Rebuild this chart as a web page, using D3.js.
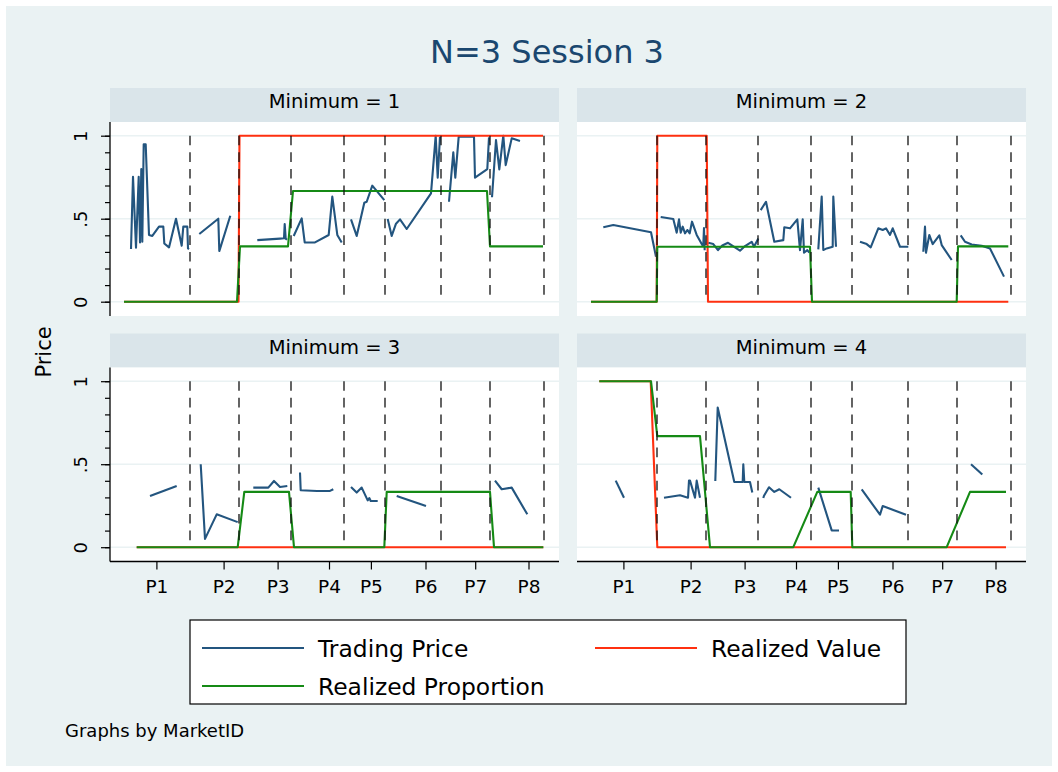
<!DOCTYPE html>
<html>
<head>
<meta charset="utf-8">
<script src="https://cdn.jsdelivr.net/npm/d3@7"></script>
<style>
  body { margin: 0; background: #ffffff; }
  svg { display: block; }
  text { font-family: "DejaVu Sans", sans-serif; fill: #000; }
</style>
</head>
<body>
<svg id="chart" width="1058" height="772"></svg>
<script>
// ---- labels -------------------------------------------------------------
const chartTitle = "N=3 Session 3";
const panelTitles = ["Minimum = 1", "Minimum = 2", "Minimum = 3", "Minimum = 4"];
const periodLabels = ["P1", "P2", "P3", "P4", "P5", "P6", "P7", "P8"];
const periodTicks = [32.4, 99.6, 153.6, 205, 246.9, 301.5, 351.2, 404.5];
const periodEnds = [66, 115, 167, 220, 261, 317, 366, 420];
const yTickValues = [0, 0.5, 1];
const yTickLabels = ["0", ".5", "1"];
const seriesNames = ["Trading Price", "Realized Value", "Realized Proportion"];

// ---- Minimum = 1 --------------------------------------------------------
const valueMin1 = [[0, 0], [114.5, 0], [115.5, 1], [419, 1]];
const proportionMin1 = [[0, 0], [113, 0], [116, 0.333], [164, 0.333], [169, 0.667],
  [363, 0.667], [366, 0.333], [419, 0.333]];
const priceMin1 = [
  [[7, 0.317], [9, 0.753], [12, 0.325], [14.7, 0.753], [16, 0.357], [17.3, 0.799], [18.3, 0.361],
   [19.7, 0.948], [21.7, 0.948], [25, 0.402], [28.3, 0.396], [35, 0.452], [39.3, 0.452], [40.3, 0.351],
   [45, 0.327], [52, 0.5], [57.7, 0.337], [59.3, 0.452], [63.3, 0.452], [64, 0.321], [65, 0.317]],
  [[75.3, 0.408], [94.3, 0.5], [95.3, 0.305], [106.3, 0.518]],
  [[133.3, 0.371], [156, 0.38], [160, 0.382], [160.7, 0.468], [161.7, 0.38], [163, 0.373]],
  [[169.7, 0.396], [177.7, 0.502], [180.7, 0.357], [191, 0.357], [204.7, 0.402], [208.3, 0.633],
   [213.3, 0.402], [217.7, 0.357]],
  [[227, 0.496], [232.7, 0.396], [240.3, 0.596], [242.7, 0.602], [248.3, 0.699], [260.3, 0.612]],
  [[263.7, 0.498], [267.7, 0.396], [272, 0.47], [276, 0.496], [282.7, 0.438], [307, 0.653],
   [311.7, 1], [313.7, 0.747], [316, 0.994]],
  [[325, 0.602], [329.3, 0.9], [331.3, 0.747], [334.7, 0.994], [350, 0.994], [351, 0.747],
   [363.3, 0.799], [365, 0.99]],
  [[368, 0.629], [372, 0.974], [375.3, 0.797], [379.3, 1], [381.7, 0.823], [387.7, 0.984], [396, 0.968]]
];

// ---- Minimum = 2 --------------------------------------------------------
const valueMin2 = [[0, 0], [65.7, 0], [66.3, 1], [115.7, 1], [117, 0], [417.3, 0]];
const proportionMin2 = [[0, 0], [65.7, 0], [66.3, 0.331], [219, 0.331], [221, 0],
  [365.7, 0], [367, 0.333], [417.3, 0.333]];
const priceMin2 = [
  [[12.3, 0.448], [22.3, 0.462], [60, 0.418], [65, 0.271]],
  [[69.7, 0.51], [82.3, 0.498], [85.7, 0.416], [88, 0.496], [89.7, 0.416], [91.7, 0.452], [94, 0.412],
   [96.3, 0.432], [98.7, 0.412], [101, 0.482], [105.7, 0.402], [111.7, 0.337], [112.3, 0.343],
   [113, 0.443], [113.7, 0.31]],
  [[117.3, 0.355], [122.3, 0.347], [127, 0.311], [131.3, 0.339], [137, 0.355], [142, 0.335],
   [149, 0.307], [154, 0.335], [160.7, 0.361], [163, 0.331], [167.3, 0.381]],
  [[169.7, 0.552], [175, 0.602], [183.3, 0.361], [192.3, 0.371], [193.3, 0.448], [199, 0.442],
   [206.3, 0.496], [209, 0.311], [211.7, 0.496], [213, 0.295], [216.3, 0.311], [218.3, 0.295]],
  [[227.3, 0.315], [230.7, 0.633], [232.3, 0.311], [235.7, 0.321], [241.7, 0.331], [242.3, 0.633],
   [245, 0.331]],
  [[269, 0.361], [275.7, 0.347], [279.7, 0.327], [287.3, 0.442], [291.7, 0.432], [295, 0.442],
   [299, 0.402], [301.7, 0.442], [309, 0.331], [317.3, 0.331]],
  [[332.3, 0.301], [334, 0.452], [335, 0.295], [338.3, 0.402], [341.7, 0.347], [348.3, 0.4],
   [350.7, 0.341], [360.7, 0.251]],
  [[369.7, 0.4], [374, 0.361], [380.7, 0.345], [390.7, 0.337], [399, 0.321], [413, 0.151]]
];

// ---- Minimum = 3 --------------------------------------------------------
const valueMin3 = [[12.7, 0], [419.3, 0]];
const proportionMin3 = [[12.7, 0], [113.7, 0], [120.3, 0.333], [165, 0.333], [170, 0],
  [260.3, 0], [262.7, 0.333], [366, 0.333], [370, 0], [419.3, 0]];
const priceMin3 = [
  [[26, 0.308], [52.7, 0.369]],
  [[76.7, 0.5], [81, 0.05], [92.7, 0.198], [113.7, 0.151]],
  [[129.3, 0.359], [144.3, 0.359], [150, 0.399], [156, 0.363], [163.3, 0.369]],
  [[176, 0.45], [176.7, 0.343], [193, 0.339], [206, 0.339], [209.3, 0.349]],
  [[227, 0.363], [232.7, 0.329], [237.7, 0.359], [243.7, 0.282], [245.3, 0.296], [246.7, 0.278],
   [253.7, 0.278]],
  [[272.7, 0.308], [302, 0.248]],
  [[371, 0.401], [377.7, 0.349], [387.7, 0.359], [403.3, 0.198]]
];

// ---- Minimum = 4 --------------------------------------------------------
const valueMin4 = [[8.3, 1], [59.7, 1], [66.3, 0], [415, 0]];
const proportionMin4 = [[8.3, 1], [60, 1], [66.3, 0.669], [109, 0.669], [119, 0], [202.3, 0],
  [226.3, 0.333], [259.7, 0.333], [261.3, 0], [355.7, 0], [379, 0.333], [415, 0.333]];
const priceMin4 = [
  [[24.7, 0.401], [33, 0.298]],
  [[73, 0.298], [89, 0.313], [97, 0.298], [98, 0.401], [99, 0.401], [104, 0.298], [105.7, 0.401],
   [109, 0.298]],
  [[124.3, 0.399], [126.7, 0.841], [143.3, 0.393], [151.7, 0.393], [152.3, 0.5], [153.3, 0.393],
   [159, 0.393], [161.3, 0.329]],
  [[172.3, 0.296], [173, 0.31], [178, 0.361], [183.3, 0.333], [188.3, 0.349], [200, 0.298]],
  [[227.3, 0.359], [240.7, 0.101], [248, 0.101]],
  [[270.7, 0.349], [289, 0.196], [291.7, 0.248], [315, 0.196]],
  [[380, 0.5], [391.3, 0.438]]
];

const panels = [
  { title: panelTitles[0], value: valueMin1, proportion: proportionMin1, price: priceMin1 },
  { title: panelTitles[1], value: valueMin2, proportion: proportionMin2, price: priceMin2 },
  { title: panelTitles[2], value: valueMin3, proportion: proportionMin3, price: priceMin3 },
  { title: panelTitles[3], value: valueMin4, proportion: proportionMin4, price: priceMin4 }
];

// ---- styling ------------------------------------------------------------
const colors = { price: "#23557f", value: "#ff3010", proportion: "#158a15" };
const bgColor = "#eaf2f3";
const stripColor = "#dae5ea";

const svg = d3.select("#chart");

// outer graph region
svg.append("rect").attr("x", 6).attr("y", 6).attr("width", 1046).attr("height", 760)
  .attr("fill", bgColor);

svg.append("text").attr("x", 547).attr("y", 52)
  .attr("text-anchor", "middle").attr("dominant-baseline", "central")
  .style("font-size", "32px").style("fill", "#1a476f").text(chartTitle);

const cols = [{ x0: 110, x1: 559 }, { x0: 577, x1: 1026 }];
const rows = [
  { stripTop: 88, top: 122, bottom: 316 },
  { stripTop: 333.5, top: 367.5, bottom: 561.5 }
];
const xDomain = [-14, 435];

const line = d3.line().x(d => d.x).y(d => d.y);

panels.forEach((p, i) => {
  const c = cols[i % 2], r = rows[Math.floor(i / 2)];
  const x = d3.scaleLinear().domain(xDomain).range([c.x0, c.x1]);
  const y = d3.scaleLinear().domain([0, 1]).range([r.bottom - 14.3, r.top + 13.7]);
  const g = svg.append("g");
  const toXY = pts => pts.map(([t, v]) => ({ x: x(t), y: y(v) }));

  // strip
  g.append("rect").attr("x", c.x0).attr("y", r.stripTop)
    .attr("width", c.x1 - c.x0).attr("height", r.top - r.stripTop).attr("fill", stripColor);
  g.append("text").attr("x", (c.x0 + c.x1) / 2).attr("y", r.stripTop + 13.5)
    .attr("text-anchor", "middle").attr("dominant-baseline", "central")
    .style("font-size", "19.5px").text(p.title);

  // plot region
  g.append("rect").attr("x", c.x0).attr("y", r.top)
    .attr("width", c.x1 - c.x0).attr("height", r.bottom - r.top).attr("fill", "#fff");

  // gridlines
  g.selectAll(".grid").data(yTickValues).join("line")
    .attr("x1", c.x0).attr("x2", c.x1).attr("y1", d => y(d)).attr("y2", d => y(d))
    .attr("stroke", bgColor).attr("stroke-width", 1.6);

  // series
  p.price.forEach(seg => {
    g.append("path").attr("d", line(toXY(seg))).attr("fill", "none")
      .attr("stroke", colors.price).attr("stroke-width", 2.1).attr("stroke-linejoin", "round");
  });
  g.append("path").attr("d", line(toXY(p.value))).attr("fill", "none")
    .attr("stroke", colors.value).attr("stroke-width", 2.1).attr("stroke-linejoin", "round");
  g.append("path").attr("d", line(toXY(p.proportion))).attr("fill", "none")
    .attr("stroke", colors.proportion).attr("stroke-width", 2.1).attr("stroke-linejoin", "round");

  // period boundaries
  g.selectAll(".period").data(periodEnds).join("line")
    .attr("x1", d => x(d)).attr("x2", d => x(d))
    .attr("y1", y(1)).attr("y2", y(0))
    .attr("stroke", "#111").attr("stroke-width", 1.3)
    .attr("stroke-dasharray", "9.6,7");

  // y axis on the left column
  if (i % 2 === 0) {
    const minor = g.append("g").attr("transform", `translate(${c.x0},0)`)
      .call(d3.axisLeft(y).tickValues(d3.range(0, 11).map(k => k / 10)).tickSize(5).tickFormat(""));
    minor.select(".domain").remove();
    const major = g.append("g").attr("transform", `translate(${c.x0},0)`)
      .call(d3.axisLeft(y).tickValues(yTickValues).tickSize(9)
        .tickFormat((d, k) => yTickLabels[k]));
    major.select(".domain").remove();
    major.selectAll("text")
      .attr("transform", "rotate(-90)")
      .attr("x", 0).attr("y", -29.3).attr("dy", null)
      .attr("text-anchor", "middle").attr("dominant-baseline", "central")
      .style("font-size", "18px").style("font-family", "DejaVu Sans, sans-serif");
    g.selectAll(".tick line").attr("stroke", "#000").attr("stroke-width", 1.2);
    g.append("line").attr("x1", c.x0).attr("x2", c.x0).attr("y1", r.top).attr("y2", r.bottom)
      .attr("stroke", "#000").attr("stroke-width", 1.3);
  }

  // x axis on the bottom row
  if (i >= 2) {
    const ax = g.append("g").attr("transform", `translate(0,${r.bottom})`)
      .call(d3.axisBottom(x).tickValues(periodTicks).tickSize(8).tickPadding(10)
        .tickFormat((d, k) => periodLabels[k]));
    ax.select(".domain").remove();
    ax.selectAll("text").style("font-size", "18.5px").style("font-family", "DejaVu Sans, sans-serif");
    ax.selectAll(".tick line").attr("stroke", "#000").attr("stroke-width", 1.2);
    g.append("line").attr("x1", c.x0).attr("x2", c.x1).attr("y1", r.bottom).attr("y2", r.bottom)
      .attr("stroke", "#000").attr("stroke-width", 1.3);
  }
});

// y axis title
svg.append("text").attr("transform", "translate(44,352) rotate(-90)")
  .attr("text-anchor", "middle").attr("dominant-baseline", "central")
  .style("font-size", "21px").text("Price");

// legend
const legend = svg.append("g");
legend.append("rect").attr("x", 190).attr("y", 620).attr("width", 716).attr("height", 84)
  .attr("fill", "#fff").attr("stroke", "#000").attr("stroke-width", 1.2);
const legendItems = [
  { name: seriesNames[0], color: colors.price, lx: 202, ty: 648 },
  { name: seriesNames[1], color: colors.value, lx: 595, ty: 648 },
  { name: seriesNames[2], color: colors.proportion, lx: 202, ty: 686 }
];
legendItems.forEach(it => {
  legend.append("line").attr("x1", it.lx).attr("x2", it.lx + 102)
    .attr("y1", it.ty).attr("y2", it.ty).attr("stroke", it.color).attr("stroke-width", 2.1);
  legend.append("text").attr("x", it.lx + 116).attr("y", it.ty + 1)
    .attr("dominant-baseline", "central").style("font-size", "23.4px").text(it.name);
});

// note
svg.append("text").attr("x", 65).attr("y", 730).attr("dominant-baseline", "central")
  .style("font-size", "18px").text("Graphs by MarketID");
</script>
</body>
</html>
